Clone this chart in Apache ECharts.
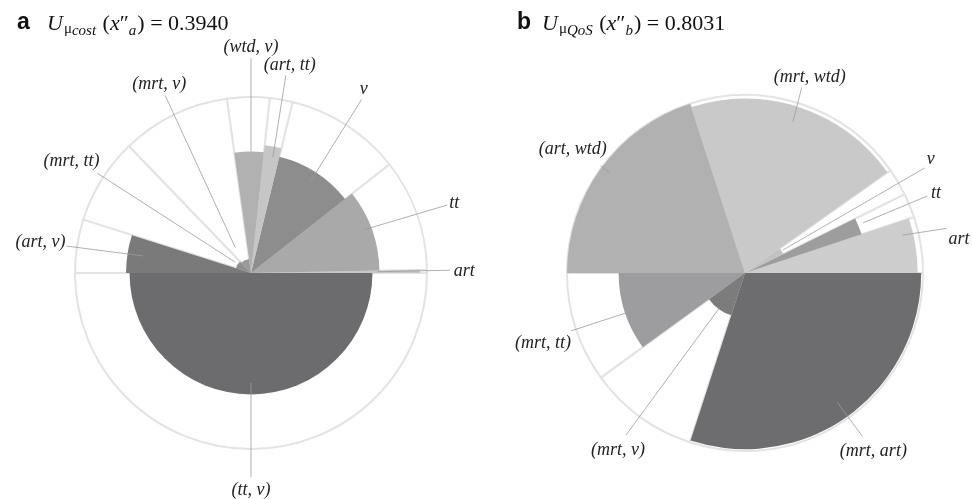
<!DOCTYPE html>
<html>
<head>
<meta charset="utf-8">
<script src="https://cdn.jsdelivr.net/npm/echarts@6/dist/echarts.min.js"></script>
<style>
  html, body { margin: 0; padding: 0; background: #fff; }
  #chart { width: 972px; height: 499px; }
</style>
</head>
<body>
<div id="chart"></div>
<script>
// panel a : U_mu_cost(x''_a) = 0.3940
const namesA = ['art', 'tt', 'v', '(art, tt)', '(wtd, v)', '(mrt, v)', '(mrt, tt)', '(art, v)', '(tt, v)']
const sharesA = [0.003, 0.103, 0.106, 0.021, 0.039, 0.100, 0.079, 0.049, 0.500] // share of the circle
const scoresA = [0.96, 0.73, 0.68, 0.73, 0.69, 0.08, 0.09, 0.71, 0.69] // radius, 1 = outer ring
const utilityA = '0.3940'

// panel b : U_mu_QoS(x''_b) = 0.8031
const namesB = ['art', 'tt', 'v', '(mrt, wtd)', '(art, wtd)', '(mrt, tt)', '(mrt, v)', '(mrt, art)']
const sharesB = [0.051, 0.022, 0.025, 0.202, 0.200, 0.100, 0.100, 0.300]
const scoresB = [0.97, 0.69, 0.24, 0.98, 1.00, 0.71, 0.25, 0.99]
const utilityB = '0.8031'

// greys of the slices
const colorsA = ['#c6c6c6', '#a9a9a9', '#8d8d8d', '#c6c6c6', '#b1b1b1', '#9a9a9a', '#8f8f8f', '#7a7a7a', '#6c6c6e']
const colorsB = ['#cdcdcd', '#9d9d9d', '#c2c2c2', '#c9c9c9', '#b1b1b1', '#9d9d9f', '#7c7c7c', '#6d6d6f']

// leader lines: [anchor r, anchor deg, end r, end deg, align, vAlign, dx, dy]
const leadersA = [
  [0.72, 0.6, 1.13, 0.8, 'left', 'middle', 4, 1],
  [0.68, 21, 1.18, 19.1, 'left', 'middle', 2, -2],
  [0.62, 57, 1.17, 57.5, 'center', 'bottom', 2, -1],
  [0.67, 79.3, 1.14, 80, 'center', 'bottom', 4, -1],
  [0.69, 90, 1.22, 90, 'center', 'bottom', 0, -2],
  [0.17, 121.6, 1.12, 115.8, 'center', 'bottom', -6, -2],
  [0.11, 145.5, 1.04, 147, 'right', 'bottom', 2, -3],
  [0.62, 171, 1.06, 171.7, 'right', 'middle', -1, -4],
  [0.625, 270, 1.16, 270, 'center', 'top', 0, 4]
]
const leadersB = [
  [0.91, 13.5, 1.16, 12.5, 'left', 'top', 2, 2],
  [0.72, 23, 1.11, 22.9, 'left', 'middle', 4, -3],
  [0.25, 31.2, 1.17, 30.3, 'left', 'bottom', 2, 0],
  [0.89, 72.4, 1.09, 73, 'center', 'bottom', 8, -1],
  [0.94, 143.5, 1.01, 143.4, 'right', 'bottom', 6, -8],
  [0.65, 198.6, 1.03, 198.4, 'right', 'top', 0, 3],
  [0.24, 233.7, 1.13, 233.7, 'center', 'top', -8, 6],
  [0.89, 305.5, 1.13, 305.7, 'center', 'top', 11, 6]
]

const chart = echarts.init(document.getElementById('chart'))

function sliceData(names, shares, scores) {
  let acc = 0
  return names.map((n, i) => {
    const a0 = acc * 360
    acc += shares[i]
    return { name: n, value: [scores[i], a0, acc * 360] }
  })
}

function sector(api, r, a0, a1, style) {
  const c = api.coord([0, 0])
  const p = api.coord([r, a0])
  return {
    type: 'sector',
    shape: {
      cx: c[0], cy: c[1], r0: 0, r: Math.hypot(p[0] - c[0], p[1] - c[1]),
      startAngle: -a0 * Math.PI / 180, endAngle: -a1 * Math.PI / 180, clockwise: false
    },
    style: style
  }
}

function panelSeries(idx, names, shares, scores, colors, leaders) {
  const data = sliceData(names, shares, scores)
  return [
    {
      type: 'custom', coordinateSystem: 'polar', polarIndex: idx, silent: true, z: 1,
      data: data,
      renderItem: (params, api) => sector(api, 1, api.value(1), api.value(2), {
        fill: '#fff', stroke: '#e3e3e3', lineWidth: 2
      })
    },
    {
      type: 'custom', coordinateSystem: 'polar', polarIndex: idx, silent: true, z: 2,
      data: data,
      renderItem: (params, api) => sector(api, api.value(0), api.value(1), api.value(2), {
        fill: colors[params.dataIndex]
      })
    },
    {
      type: 'custom', coordinateSystem: 'polar', polarIndex: idx, silent: true, z: 3,
      data: leaders.map((l, i) => ({ name: names[i], value: [l[0], l[1], l[2], l[3]] })),
      renderItem: (params, api) => {
        const l = leaders[params.dataIndex]
        const p0 = api.coord([api.value(0), api.value(1)])
        const p1 = api.coord([api.value(2), api.value(3)])
        return {
          type: 'group',
          children: [
            {
              type: 'line',
              shape: { x1: p0[0], y1: p0[1], x2: p1[0], y2: p1[1] },
              style: { stroke: '#9c9c9c', lineWidth: 0.8 }
            },
            {
              type: 'text',
              style: {
                text: names[params.dataIndex],
                x: p1[0] + l[6], y: p1[1] + l[7],
                align: l[4], verticalAlign: l[5],
                font: 'italic 18px "Liberation Serif"', fill: '#222'
              }
            }
          ]
        }
      }
    }
  ]
}

const hiddenAxis = { show: false, axisLine: { show: false }, axisTick: { show: false }, axisLabel: { show: false }, splitLine: { show: false } }

const richTitle = {
  u: { fontFamily: 'Liberation Serif', fontStyle: 'italic', fontWeight: 'normal', fontSize: 22, color: '#111', lineHeight: 30 },
  n: { fontFamily: 'Liberation Serif', fontWeight: 'normal', fontSize: 22, color: '#111', lineHeight: 30 },
  m: { fontFamily: 'Liberation Serif', fontWeight: 'normal', fontSize: 15, color: '#111', lineHeight: 30, verticalAlign: 'bottom', padding: [0, 0, 2, 1] },
  s: { fontFamily: 'Liberation Serif', fontStyle: 'italic', fontWeight: 'normal', fontSize: 15, color: '#111', lineHeight: 30, verticalAlign: 'bottom', padding: [0, 1, 0, 0] }
}

chart.setOption({
  backgroundColor: '#fff',
  animation: false,
  title: [
    { text: 'a', left: 12, top: 6, textStyle: { fontFamily: 'Liberation Sans', fontWeight: 'bold', fontSize: 23, color: '#111' } },
    { text: '{u|U}{m|μ}{s|cost}{n| (}{u|x}{n|″}{s|a}{n|) = ' + utilityA + '}', left: 42, top: 4, textStyle: { fontWeight: 'normal', rich: richTitle } },
    { text: 'b', left: 512, top: 6, textStyle: { fontFamily: 'Liberation Sans', fontWeight: 'bold', fontSize: 23, color: '#111' } },
    { text: '{u|U}{m|μ}{s|QoS}{n| (}{u|x}{n|″}{s|b}{n|) = ' + utilityB + '}', left: 537, top: 4, textStyle: { fontWeight: 'normal', rich: richTitle } }
  ],
  polar: [
    { center: [251, 273], radius: 176 },
    { center: [745, 273], radius: 178 }
  ],
  angleAxis: [
    Object.assign({ polarIndex: 0, type: 'value', min: 0, max: 360, startAngle: 0, clockwise: false }, hiddenAxis),
    Object.assign({ polarIndex: 1, type: 'value', min: 0, max: 360, startAngle: 0, clockwise: false }, hiddenAxis)
  ],
  radiusAxis: [
    Object.assign({ polarIndex: 0, type: 'value', min: 0, max: 1 }, hiddenAxis),
    Object.assign({ polarIndex: 1, type: 'value', min: 0, max: 1 }, hiddenAxis)
  ],
  series: [
    ...panelSeries(0, namesA, sharesA, scoresA, colorsA, leadersA),
    ...panelSeries(1, namesB, sharesB, scoresB, colorsB, leadersB)
  ]
})
</script>
</body>
</html>
